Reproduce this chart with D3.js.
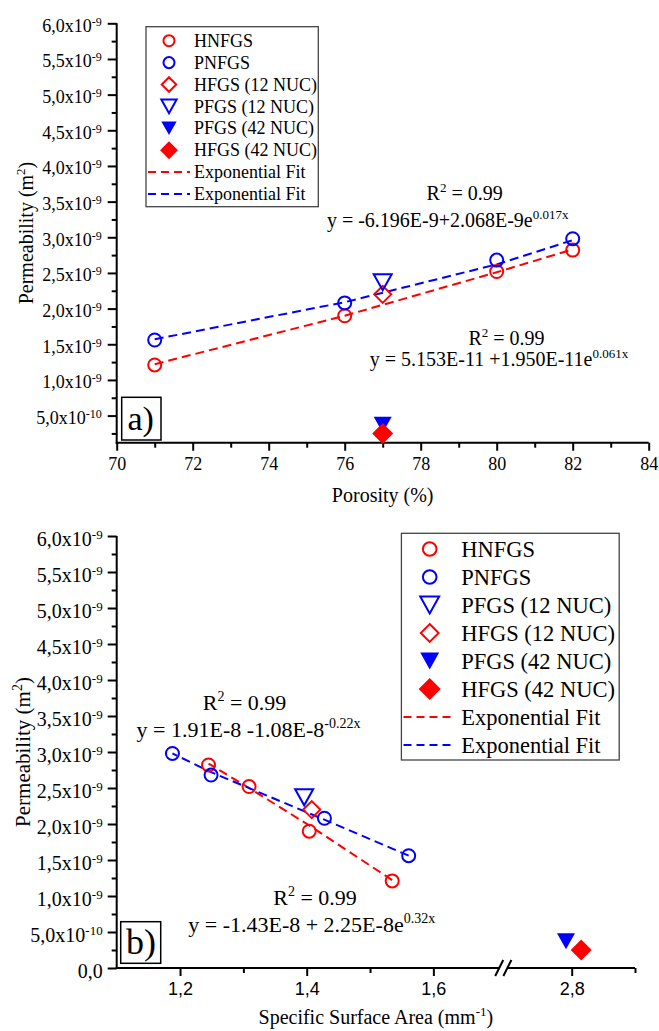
<!DOCTYPE html>
<html>
<head>
<meta charset="utf-8">
<script src="https://cdnjs.cloudflare.com/ajax/libs/d3/7.8.5/d3.min.js"></script>
<style>
  body { margin: 0; background: #fff; }
  svg { display: block; }
</style>
</head>
<body>
<div id="chart"></div>
<script>
// permeability values in units of 1e-9 m2
var porosity = [71, 76, 80, 82];
var hnfgsPerm = [1.21, 1.90, 2.52, 2.82];
var pnfgsPerm = [1.56, 2.08, 2.68, 2.98];
var hnfgsSSA = [1.535, 1.404, 1.309, 1.245];
var pnfgsSSA = [1.561, 1.428, 1.249, 1.188];

var fgsPorosity = [77, 77, 77, 77];
var fgsLabels = ["HFGS (12 NUC)", "PFGS (12 NUC)", "PFGS (42 NUC)", "HFGS (42 NUC)"];
var fgsPerm = [2.20, 2.37, 0.37, 0.25];
var fgsSSA = [1.408, 1.396, 2.791, 2.815];

// dashed fit curves
var redFitTop = [1.22, 1.90, 2.51, 2.83];      // at porosity
var blueFitTop = [1.57, 2.09, 2.62, 2.96];     // at porosity
var redFitBottom = [1.22, 1.98, 2.50, 2.84];   // at hnfgsSSA
var blueFitBottom = [1.56, 2.06, 2.72, 2.98];  // at pnfgsSSA

var legendTop = ["HNFGS", "PNFGS", "HFGS (12 NUC)", "PFGS (12 NUC)", "PFGS (42 NUC)", "HFGS (42 NUC)", "Exponential Fit", "Exponential Fit"];
var legendBottom = ["HNFGS", "PNFGS", "PFGS (12 NUC)", "HFGS (12 NUC)", "PFGS (42 NUC)", "HFGS (42 NUC)", "Exponential Fit", "Exponential Fit"];

var porosityTicks = [70, 72, 74, 76, 78, 80, 82, 84];
var porosityMinor = [71, 73, 75, 77, 79, 81, 83];
var ssaTicksA = [1.2, 1.4, 1.6];
var ssaMinorA = [1.3, 1.5];
var ssaTicksB = [2.8];
var ssaMinorB = [2.9];
var permTicksTop = [0.5, 1.0, 1.5, 2.0, 2.5, 3.0, 3.5, 4.0, 4.5, 5.0, 5.5, 6.0];
var permTicksBottom = [0, 0.5, 1.0, 1.5, 2.0, 2.5, 3.0, 3.5, 4.0, 4.5, 5.0, 5.5, 6.0];
var permMinor = [0.25, 0.75, 1.25, 1.75, 2.25, 2.75, 3.25, 3.75, 4.25, 4.75, 5.25, 5.75];

var RED = "#ff0000", BLUE = "#0000ff";
var SERIF = "'Liberation Serif', 'Times New Roman', serif";
var SANS = "'Liberation Sans', Arial, sans-serif";

var styleOf = {
  "HNFGS": {t: "circle", c: RED, fill: false},
  "PNFGS": {t: "circle", c: BLUE, fill: false},
  "HFGS (12 NUC)": {t: "diamond", c: RED, fill: false},
  "PFGS (12 NUC)": {t: "tri", c: BLUE, fill: false},
  "PFGS (42 NUC)": {t: "tri", c: BLUE, fill: true},
  "HFGS (42 NUC)": {t: "diamond", c: RED, fill: true}
};

var svg = d3.select("#chart")
  .append("svg")
  .attr("width", 659)
  .attr("height", 1031);

svg.append("rect").attr("width", 659).attr("height", 1031).attr("fill", "#fff");

function markerPath(st, s) {
  s = s || 1;
  if (st.t == "circle") {
    return d3.symbol().type(d3.symbolCircle).size(Math.PI * 6.5 * 6.5 * s * s)();
  }
  if (st.t == "tri") {
    return `M${-9 * s},${-8 * s}L${9 * s},${-8 * s}L0,${8 * s}Z`;
  }
  var h = (st.fill ? 10.5 : 8.5) * s;
  return `M0,${-h}L${h},0L0,${h}L${-h},0Z`;
}

function drawMarker(g, label, x, y, s) {
  var st = styleOf[label];
  g.append("path")
    .attr("transform", `translate(${x},${y})`)
    .attr("d", markerPath(st, s))
    .attr("fill", st.fill ? st.c : "none")
    .attr("stroke", st.c)
    .attr("stroke-width", st.fill ? 0 : 2);
}

function drawPoints(g, xs, ys, label, sx, sy) {
  xs.forEach(function(d, i) {
    drawMarker(g, label, sx(d), sy(ys[i]), 1);
  });
}

function drawFit(g, xs, ys, color, sx, sy) {
  var line = d3.line()
    .x(function(d, i) { return sx(xs[i]); })
    .y(function(d) { return sy(d); });
  g.append("path")
    .attr("d", line(ys))
    .attr("fill", "none")
    .attr("stroke", color)
    .attr("stroke-width", 2)
    .attr("stroke-dasharray", "9,5");
}

// text with superscript parts: parts = [[str, isSup], ...]
function supText(g, x, y, anchor, parts, size, supSize, raise, rotate) {
  var t = g.append("text")
    .attr("x", x)
    .attr("y", y)
    .attr("text-anchor", anchor)
    .attr("font-family", SERIF)
    .attr("font-size", size);
  if (rotate) t.attr("transform", `rotate(-90, ${x}, ${y})`);
  var up = false;
  parts.forEach(function(p) {
    var ts = t.append("tspan").text(p[0]);
    if (p[1]) {
      ts.attr("dy", -raise).attr("font-size", supSize);
      up = true;
    } else if (up) {
      ts.attr("dy", raise);
      up = false;
    }
  });
  return t;
}

function styleAxis(g) {
  g.select(".domain").remove();
  g.selectAll(".tick line").attr("stroke", "#000").attr("stroke-width", 2);
}

function permLabels(g, size, supSize, raise, dx, dy) {
  g.selectAll(".tick text").each(function(d) {
    var t = d3.select(this);
    t.text(null)
      .attr("x", dx)
      .attr("y", dy)
      .attr("dy", null)
      .attr("fill", "#000")
      .attr("font-family", SERIF)
      .attr("font-size", size);
    if (d === 0) {
      t.append("tspan").text("0,0");
      return;
    }
    var m = d < 1 ? d * 10 : d;
    var e = d < 1 ? "-10" : "-9";
    t.append("tspan").text(m.toFixed(1).replace(".", ",") + "x10");
    t.append("tspan").attr("dy", -raise).attr("font-size", supSize).text(e);
  });
}

function legend(g, box, labels, row0, step, symX, textX, line0, line1, size, s) {
  g.append("rect")
    .attr("x", box[0]).attr("y", box[1])
    .attr("width", box[2] - box[0]).attr("height", box[3] - box[1])
    .attr("fill", "#fff")
    .attr("stroke", "#444")
    .attr("stroke-width", 1.3);
  var fitColors = [RED, BLUE], k = 0;
  labels.forEach(function(lab, i) {
    var y = row0 + i * step;
    if (lab == "Exponential Fit") {
      g.append("line")
        .attr("x1", line0).attr("x2", line1)
        .attr("y1", y).attr("y2", y)
        .attr("stroke", fitColors[k++])
        .attr("stroke-width", 2)
        .attr("stroke-dasharray", "8,5");
    } else {
      drawMarker(g, lab, symX, y, s);
    }
    g.append("text")
      .attr("x", textX)
      .attr("y", y + size * 0.34)
      .attr("font-family", SERIF)
      .attr("font-size", size)
      .text(lab);
  });
}

function panelTag(g, box, label, size, tx, ty) {
  g.append("rect")
    .attr("x", box[0]).attr("y", box[1])
    .attr("width", box[2] - box[0]).attr("height", box[3] - box[1])
    .attr("fill", "none")
    .attr("stroke", "#000")
    .attr("stroke-width", 1.5);
  g.append("text")
    .attr("x", tx).attr("y", ty)
    .attr("font-family", SERIF)
    .attr("font-size", size)
    .text(label);
}

// ---------------- panel a) ----------------
var xTop = d3.scaleLinear().domain([70, 84]).range([116.7, 648.7]);
var yTop = d3.scaleLinear().domain([0.12, 6.0]).range([442.7, 23.3]);

var panelA = svg.append("g");

var gx = panelA.append("g").attr("transform", "translate(0,442.7)")
  .call(d3.axisBottom(xTop).tickValues(porosityTicks).tickSize(8).tickSizeOuter(0));
styleAxis(gx);
gx.selectAll(".tick text")
  .attr("y", 27).attr("dy", null)
  .attr("fill", "#000")
  .attr("font-family", SERIF).attr("font-size", 18);
styleAxis(panelA.append("g").attr("transform", "translate(0,442.7)")
  .call(d3.axisBottom(xTop).tickValues(porosityMinor).tickSize(5).tickFormat("")));

var gy = panelA.append("g").attr("transform", "translate(116.7,0)")
  .call(d3.axisLeft(yTop).tickValues(permTicksTop).tickSize(9).tickSizeOuter(0));
styleAxis(gy);
permLabels(gy, 18, 12, 6, -15, 8);
styleAxis(panelA.append("g").attr("transform", "translate(116.7,0)")
  .call(d3.axisLeft(yTop).tickValues(permMinor).tickSize(5).tickFormat("")));

panelA.append("line").attr("x1", 116.7).attr("x2", 116.7).attr("y1", yTop(6.0)).attr("y2", 443.7)
  .attr("stroke", "#000").attr("stroke-width", 2);
panelA.append("line").attr("x1", 115.7).attr("x2", xTop(84)).attr("y1", 442.7).attr("y2", 442.7)
  .attr("stroke", "#000").attr("stroke-width", 2);

drawFit(panelA, porosity, redFitTop, RED, xTop, yTop);
drawFit(panelA, porosity, blueFitTop, BLUE, xTop, yTop);
drawPoints(panelA, porosity, hnfgsPerm, "HNFGS", xTop, yTop);
drawPoints(panelA, porosity, pnfgsPerm, "PNFGS", xTop, yTop);
fgsLabels.forEach(function(lab, i) {
  drawMarker(panelA, lab, xTop(fgsPorosity[i]), yTop(fgsPerm[i]), 1);
});

legend(panelA, [146, 26.7, 318.3, 206.7], legendTop, 40.7, 21.9, 169, 194, 148, 190, 18, 0.85);
panelTag(panelA, [121.7, 397.3, 161, 440], "a)", 34, 127.5, 430);

supText(panelA, 464.6, 199.5, "middle", [["R", 0], ["2", 1], [" = 0.99", 0]], 20, 13, 8);
supText(panelA, 447.7, 227, "middle", [["y = -6.196E-9+2.068E-9e", 0], ["0.017x", 1]], 20, 13, 8);
supText(panelA, 506.5, 344.5, "middle", [["R", 0], ["2", 1], [" = 0.99", 0]], 20, 13, 8);
supText(panelA, 499, 365.5, "middle", [["y = 5.153E-11 +1.950E-11e", 0], ["0.061x", 1]], 20, 13, 8);

supText(panelA, (116.7 + 648.7) / 2, 501.5, "middle", [["Porosity (%)", 0]], 20, 13, 8);
supText(panelA, 33, (23.3 + 442.7) / 2, "middle", [["Permeability (m", 0], ["2", 1], [")", 0]], 20, 13, 8, true);

// ---------------- panel b) ----------------
var xBotA = d3.scaleLinear().domain([1.1, 1.7]).range([116.7, 496.7]);
var xBotB = d3.scaleLinear().domain([2.7, 2.9]).range([508.4, 635]);
function xBot(v) { return v < 2.2 ? xBotA(v) : xBotB(v); }
var yBot = d3.scaleLinear().domain([0, 6.0]).range([968, 536]);

var panelB = svg.append("g");

[[xBotA, ssaTicksA, ssaMinorA], [xBotB, ssaTicksB, ssaMinorB]].forEach(function(a) {
  var g = panelB.append("g").attr("transform", "translate(0,968)")
    .call(d3.axisBottom(a[0]).tickValues(a[1]).tickSize(8).tickSizeOuter(0));
  styleAxis(g);
  g.selectAll(".tick text")
    .attr("y", 27).attr("dy", null)
    .attr("fill", "#000")
    .attr("font-family", SANS).attr("font-size", 18)
    .text(function(d) { return d3.format(".1f")(d).replace(".", ","); });
  styleAxis(panelB.append("g").attr("transform", "translate(0,968)")
    .call(d3.axisBottom(a[0]).tickValues(a[2]).tickSize(5).tickFormat("")));
});

var gyb = panelB.append("g").attr("transform", "translate(116.7,0)")
  .call(d3.axisLeft(yBot).tickValues(permTicksBottom).tickSize(9).tickSizeOuter(0));
styleAxis(gyb);
permLabels(gyb, 20, 13, 6.5, -14, 9);
styleAxis(panelB.append("g").attr("transform", "translate(116.7,0)")
  .call(d3.axisLeft(yBot).tickValues(permMinor).tickSize(5).tickFormat("")));

panelB.append("line").attr("x1", 116.7).attr("x2", 116.7).attr("y1", yBot(6.0)).attr("y2", 969)
  .attr("stroke", "#000").attr("stroke-width", 2);
var brk1 = xBotA(1.7) + 2.5, brk2 = xBotB(2.7) - 1;
panelB.append("line").attr("x1", 115.7).attr("x2", brk1).attr("y1", 968).attr("y2", 968)
  .attr("stroke", "#000").attr("stroke-width", 2);
panelB.append("line").attr("x1", brk2).attr("x2", xBotB(2.9)).attr("y1", 968).attr("y2", 968)
  .attr("stroke", "#000").attr("stroke-width", 2);
[brk1, brk2].forEach(function(bx) {
  panelB.append("line")
    .attr("x1", bx - 4).attr("y1", 976)
    .attr("x2", bx + 4).attr("y2", 960)
    .attr("stroke", "#000").attr("stroke-width", 2);
});

drawFit(panelB, hnfgsSSA, redFitBottom, RED, xBot, yBot);
drawFit(panelB, pnfgsSSA, blueFitBottom, BLUE, xBot, yBot);
drawPoints(panelB, hnfgsSSA, hnfgsPerm, "HNFGS", xBot, yBot);
drawPoints(panelB, pnfgsSSA, pnfgsPerm, "PNFGS", xBot, yBot);
fgsLabels.forEach(function(lab, i) {
  drawMarker(panelB, lab, xBot(fgsSSA[i]), yBot(fgsPerm[i]), 1);
});

legend(panelB, [401.4, 533.3, 619.2, 760], legendBottom, 549, 28, 429.7, 461.2, 403.5, 454, 22.5, 1.05);
panelTag(panelB, [120.7, 921.7, 160.7, 963.3], "b)", 36, 126, 953.5);

supText(panelB, 244.5, 710, "middle", [["R", 0], ["2", 1], [" = 0.99", 0]], 22, 14, 9);
supText(panelB, 248.5, 737.3, "middle", [["y = 1.91E-8 -1.08E-8", 0], ["-0.22x", 1]], 22, 14, 9);
supText(panelB, 315, 905, "middle", [["R", 0], ["2", 1], [" = 0.99", 0]], 22, 14, 9);
supText(panelB, 311.7, 931.7, "middle", [["y = -1.43E-8 + 2.25E-8e", 0], ["0.32x", 1]], 22, 14, 9);

supText(panelB, (116.7 + 635) / 2, 1024, "middle", [["Specific Surface Area (mm", 0], ["-1", 1], [")", 0]], 20, 13, 8);
supText(panelB, 30, (536 + 968) / 2, "middle", [["Permeability (m", 0], ["2", 1], [")", 0]], 21, 14, 8, true);
</script>
</body>
</html>
